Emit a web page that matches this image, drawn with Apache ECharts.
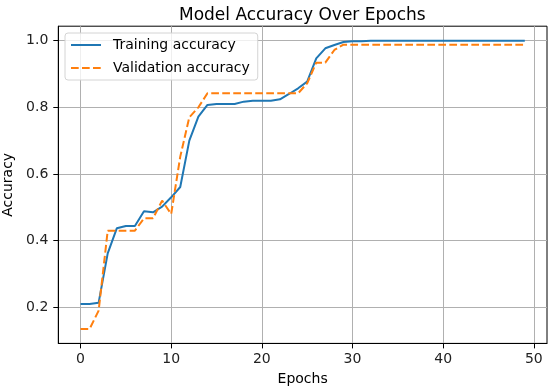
<!DOCTYPE html>
<html>
<head>
<meta charset="utf-8">
<script src="https://cdn.jsdelivr.net/npm/echarts@6/dist/echarts.min.js"></script>
<style>html,body{margin:0;padding:0;background:#fff}#c{width:550px;height:391px}</style>
</head>
<body>
<div id="c"></div>
<script>
const epochs = Array.from({length: 50}, (_, i) => i);
const trainingAccuracy = [0.21,0.21,0.214,0.362,0.437,0.444,0.444,0.488,0.485,0.502,
  0.53,0.561,0.70,0.772,0.807,0.81,0.81,0.81,0.817,0.82,
  0.82,0.82,0.824,0.84,0.857,0.877,0.947,0.977,0.987,0.996,
  0.998,0.998,1.0,1.0,1.0,1.0,1.0,1.0,1.0,1.0,
  1.0,1.0,1.0,1.0,1.0,1.0,1.0,1.0,1.0,1.0];
const validationAccuracy = [0.135,0.135,0.19,0.43,0.43,0.43,0.43,0.467,0.467,0.52,
  0.48,0.652,0.77,0.80,0.842,0.842,0.842,0.842,0.842,0.842,
  0.842,0.842,0.842,0.842,0.842,0.872,0.934,0.934,0.972,0.988,
  0.988,0.988,0.988,0.988,0.988,0.988,0.988,0.988,0.988,0.988,
  0.988,0.988,0.988,0.988,0.988,0.988,0.988,0.988,0.988,0.988];
const xTicks = [0,10,20,30,40,50];
const yTicks = [0.2,0.4,0.6,0.8,1.0];

const font = 'DejaVu Sans';
const chart = echarts.init(document.getElementById('c'), null, {renderer: 'canvas'});
chart.setOption({
  animation: false,
  backgroundColor: '#fff',
  title: {
    text: 'Model Accuracy Over Epochs',
    left: 174, top: 2,
    textStyle: {fontFamily: font, fontSize: 17, fontWeight: 'normal', color: '#000'}
  },
  legend: {
    orient: 'vertical',
    left: 65, top: 33,
    itemWidth: 30, itemHeight: 14, itemGap: 9,
    padding: [5, 8, 5, 5],
    borderColor: '#d4d4d4', borderWidth: 1, borderRadius: 3,
    backgroundColor: 'rgba(255,255,255,0.8)',
    itemStyle: {opacity: 0},
    textStyle: {fontFamily: font, fontSize: 14, color: '#000', padding: [0,0,0,7]},
    data: ['Training accuracy', 'Validation accuracy']
  },
  grid: {left: 58.3, right: 3, top: 26.2, bottom: 47.6, show: true, borderColor: '#000', borderWidth: 1,
    containLabel: false, outerBoundsMode: 'none'},
  xAxis: {
    type: 'value', min: -2.45, max: 51.45,
    name: 'Epochs', nameLocation: 'middle', nameGap: 29,
    nameTextStyle: {fontFamily: font, fontSize: 14, color: '#000'},
    axisLine: {show: true, onZero: false, lineStyle: {color: '#000', width: 1}},
    axisTick: {show: true, length: 5, lineStyle: {color: '#000'}, customValues: xTicks},
    axisLabel: {customValues: xTicks, margin: 9, fontFamily: font, fontSize: 14, color: '#222'},
    splitLine: {show: true, lineStyle: {color: '#b0b0b0', width: 1}}
  },
  yAxis: {
    type: 'value', min: 0.0918, max: 1.0433,
    name: 'Accuracy', nameLocation: 'middle', nameGap: 38,
    nameTextStyle: {fontFamily: font, fontSize: 14, color: '#000'},
    axisLine: {show: true, onZero: false, lineStyle: {color: '#000', width: 1}},
    axisTick: {show: true, length: 5, lineStyle: {color: '#000'}, customValues: yTicks},
    axisLabel: {customValues: yTicks, margin: 10, fontFamily: font, fontSize: 14, color: '#222',
      formatter: v => v.toFixed(1)},
    splitLine: {show: true, lineStyle: {color: '#b0b0b0', width: 1}}
  },
  series: [
    {
      name: 'Training accuracy', type: 'line', symbol: 'none',
      data: epochs.map((e, i) => [e, trainingAccuracy[i]]),
      lineStyle: {color: '#1f77b4', width: 2},
      itemStyle: {color: '#1f77b4'}
    },
    {
      name: 'Validation accuracy', type: 'line', symbol: 'none',
      data: epochs.map((e, i) => [e, validationAccuracy[i]]),
      lineStyle: {color: '#ff7f0e', width: 2, type: [7.7, 3.3]},
      itemStyle: {color: '#ff7f0e'}
    }
  ]
});
</script>
</body>
</html>
